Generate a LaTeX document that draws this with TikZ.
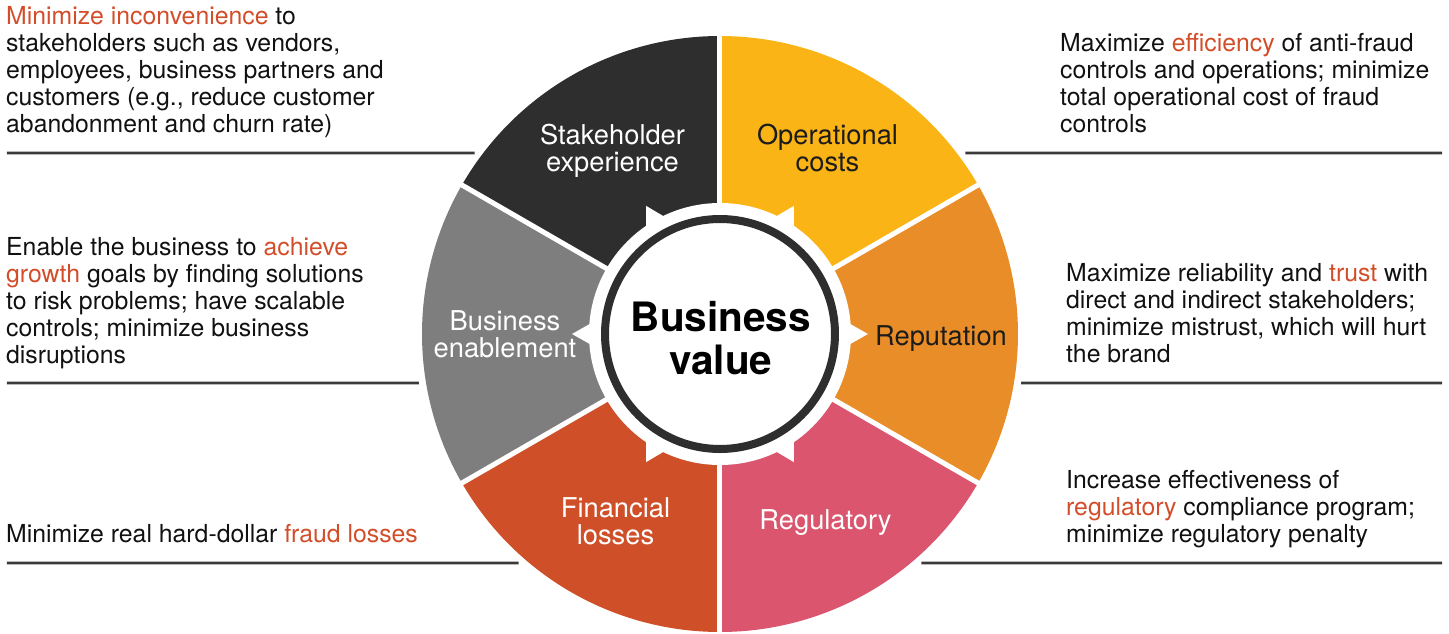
\documentclass[tikz,border=0pt]{standalone}
\usepackage{fontspec}
\setmainfont{TeX Gyre Heros}
\usepackage{xcolor}
\usetikzlibrary{positioning}
\definecolor{stakecol}{HTML}{2E2E2E}
\definecolor{opcostcol}{HTML}{FBB416}
\definecolor{reputcol}{HTML}{E88D28}
\definecolor{regulcol}{HTML}{DA556D}
\definecolor{finlosscol}{HTML}{CF4F29}
\definecolor{enablecol}{HTML}{7E7E7E}
\definecolor{ringcol}{HTML}{2E2E2E}
\definecolor{rulegray}{HTML}{3A3A3A}
\definecolor{textblack}{HTML}{111111}
\definecolor{labeldark}{HTML}{1C1C1C}
\definecolor{hlorange}{HTML}{D24E2A}
\newcommand{\keyword}[1]{\textcolor{hlorange}{#1}}

\begin{document}
\begin{tikzpicture}[
    x=1pt, y=1pt,
    desc/.style={anchor=north west, align=left, inner sep=0pt, text=textblack, font=\fontsize{24.8}{26.8}\selectfont},
    seglabel/.style={align=center, inner sep=0pt, font=\fontsize{27.3}{27.5}\selectfont},
    sepline/.style={draw=rulegray, line width=2.6pt},
    segsep/.style={draw=white, line width=5pt},
    tooth/.style={fill=white}
]
\useasboundingbox (-720,-299) rectangle (729,334);

% wheel segments
\fill[stakecol] (0,0) -- (90:298) arc[start angle=90, end angle=150, radius=298] -- cycle;
\fill[enablecol] (0,0) -- (150:298) arc[start angle=150, end angle=210, radius=298] -- cycle;
\fill[finlosscol] (0,0) -- (210:298) arc[start angle=210, end angle=270, radius=298] -- cycle;
\fill[regulcol] (0,0) -- (270:298) arc[start angle=270, end angle=330, radius=298] -- cycle;
\fill[reputcol] (0,0) -- (-30:298) arc[start angle=-30, end angle=30, radius=298] -- cycle;
\fill[opcostcol] (0,0) -- (30:298) arc[start angle=30, end angle=90, radius=298] -- cycle;

\draw[segsep] (0,0) -- (90:305);
\draw[segsep] (0,0) -- (150:305);
\draw[segsep] (0,0) -- (210:305);
\draw[segsep] (0,0) -- (270:305);
\draw[segsep] (0,0) -- (330:305);
\draw[segsep] (0,0) -- (30:305);

% hub with its teeth
\fill[white] (0,0) circle (131);
\fill[tooth, rotate=120] (148,0) -- (125,13) -- (125,-13) -- cycle;
\fill[tooth, rotate=60] (148,0) -- (125,13) -- (125,-13) -- cycle;
\fill[tooth, rotate=0] (148,0) -- (125,13) -- (125,-13) -- cycle;
\fill[tooth, rotate=-60] (148,0) -- (125,13) -- (125,-13) -- cycle;
\fill[tooth, rotate=-120] (148,0) -- (125,13) -- (125,-13) -- cycle;
\fill[tooth, rotate=180] (148,0) -- (125,13) -- (125,-13) -- cycle;
\draw[draw=ringcol, line width=8pt, fill=white] (0,0) circle (115);

\node[align=center, inner sep=0pt, font=\fontsize{40.5}{43}\selectfont\bfseries] (value) at (1,-4) {Business\\value};

\node[seglabel, text=white] (stake) at ([yshift=-3]120:215) {Stakeholder\\experience};
\node[seglabel, text=labeldark] (opcost) at (60:215) {Operational\\costs};
\node[seglabel, text=labeldark] (reput) at (221,-5) {Reputation};
\node[seglabel, text=white] (regul) at ([xshift=-2,yshift=-2]-60:215) {Regulatory};
\node[seglabel, text=white] (finloss) at ([xshift=3,yshift=-1]-120:215) {Financial\\losses};
\node[seglabel, text=white] (enable) at (180:215) {Business\\enablement};

% descriptions
\node[desc] (stakedesc) at (-714,327.4) {\keyword{Minimize inconvenience} to\\stakeholders such as vendors,\\employees, business partners and\\customers (e.g., reduce customer\\abandonment and churn rate)};
\node[desc] (opcostdesc) at (340,300.4) {Maximize \keyword{efficiency} of anti-fraud\\controls and operations; minimize\\total operational cost of fraud\\controls};
\node[desc] (enabledesc) at (-714,96.4) {Enable the business to \keyword{achieve}\\\keyword{growth} goals by finding solutions\\to risk problems; have scalable\\controls; minimize business\\disruptions};
\node[desc] (reputdesc) at (346,70.4) {Maximize reliability and \keyword{trust} with\\direct and indirect stakeholders;\\minimize mistrust, which will hurt\\the brand};
\node[desc] (finlossdesc) at (-714,-190.6) {Minimize real hard-dollar \keyword{fraud losses}};
\node[desc] (reguldesc) at (346,-136.6) {Increase effectiveness of\\\keyword{regulatory} compliance program;\\minimize regulatory penalty};

% separator rules
\coordinate (ruleTLa) at (-713,181);
\coordinate (ruleTLb) at ({180-asin(181/305)}:305);
\coordinate (ruleTRa) at ({asin(181/305)}:305);
\coordinate (ruleTRb) at (722,181);
\coordinate (ruleMLa) at (-713,-49);
\coordinate (ruleMLb) at ({180+asin(49/305)}:305);
\coordinate (ruleMRa) at ({-asin(49/305)}:305);
\coordinate (ruleMRb) at (722,-49);
\coordinate (ruleBLa) at (-713,-229);
\coordinate (ruleBLb) at ({180+asin(229/305)}:305);
\coordinate (ruleBRa) at ({-asin(229/305)}:305);
\coordinate (ruleBRb) at (722,-229);

\draw[sepline] (ruleTLa) -- (ruleTLb);
\draw[sepline] (ruleTRa) -- (ruleTRb);
\draw[sepline] (ruleMLa) -- (ruleMLb);
\draw[sepline] (ruleMRa) -- (ruleMRb);
\draw[sepline] (ruleBLa) -- (ruleBLb);
\draw[sepline] (ruleBRa) -- (ruleBRb);

\end{tikzpicture}
\end{document}
